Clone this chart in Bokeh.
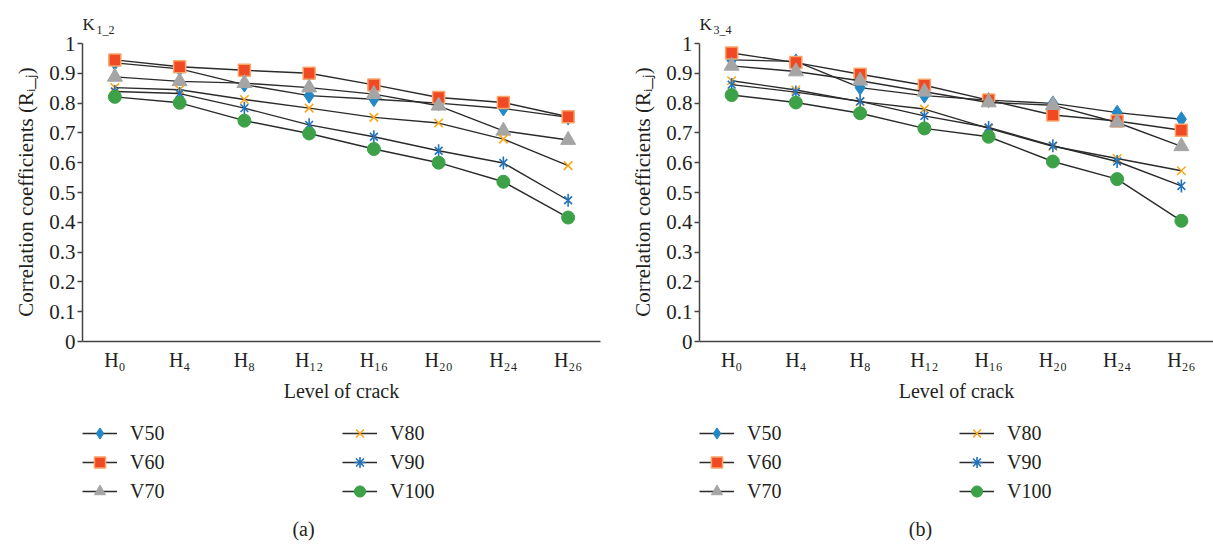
import math
from bokeh.plotting import figure
from bokeh.layouts import row, column
from bokeh.models import FactorRange, Range1d, FixedTicker, Legend, LegendItem, Label
from bokeh.embed import file_html
from bokeh.resources import INLINE

levels = ["H₀", "H₄", "H₈", "H₁₂", "H₁₆", "H₂₀", "H₂₄", "H₂₆"]
series_names = ["V50", "V60", "V70", "V80", "V90", "V100"]
y_ticks = [0, 0.1, 0.2, 0.3, 0.4, 0.5, 0.6, 0.7, 0.8, 0.9, 1]

# Panel (a): K1_2
k12_v50 = [0.935, 0.915, 0.862, 0.825, 0.813, 0.800, 0.782, 0.752]
k12_v60 = [0.945, 0.922, 0.910, 0.900, 0.861, 0.819, 0.802, 0.754]
k12_v70 = [0.888, 0.873, 0.867, 0.852, 0.830, 0.791, 0.707, 0.676]
k12_v80 = [0.852, 0.845, 0.812, 0.783, 0.752, 0.733, 0.679, 0.590]
k12_v90 = [0.839, 0.832, 0.783, 0.727, 0.687, 0.640, 0.599, 0.474]
k12_v100 = [0.821, 0.801, 0.741, 0.698, 0.646, 0.600, 0.536, 0.416]

# Panel (b): K3_4
k34_v50 = [0.945, 0.940, 0.852, 0.825, 0.810, 0.799, 0.768, 0.746]
k34_v60 = [0.968, 0.936, 0.897, 0.860, 0.810, 0.760, 0.740, 0.709]
k34_v70 = [0.925, 0.906, 0.875, 0.838, 0.802, 0.793, 0.735, 0.655]
k34_v80 = [0.875, 0.844, 0.805, 0.780, 0.715, 0.655, 0.614, 0.573]
k34_v90 = [0.862, 0.837, 0.806, 0.757, 0.718, 0.657, 0.604, 0.522]
k34_v100 = [0.827, 0.802, 0.766, 0.715, 0.687, 0.604, 0.545, 0.405]

FONT = "Liberation Serif"
TXT = "#231f20"
LINE = "#2b2b2b"
CHART_H = 410
LEG_H = 134
NBSP = "\u00a0"


def add_markers(p, name, xs, ys, legend=False):
    rs = []
    if name == "V50":
        rs.append(p.scatter(xs, ys, marker="diamond", size=15, fill_color="#2388C6", line_color="#2388C6"))
    elif name == "V60":
        rs.append(p.scatter(xs, ys, marker="square", size=12, fill_color="#EF4A24", line_color="#F8A56B", line_width=1.5))
    elif name == "V70":
        rs.append(p.scatter(xs, ys, marker="triangle", size=15, fill_color="#A5A5A5", line_color="#A5A5A5"))
    elif name == "V80":
        rs.append(p.scatter(xs, ys, marker="x", size=12, line_color="#F9A81B", line_width=1.6))
    elif name == "V90":
        if legend:
            rs.append(p.scatter(xs, ys, marker="asterisk", size=12, line_color="#2372BC", line_width=1.6))
        else:
            rs.append(p.scatter(xs, ys, marker="x", size=11, line_color="#2372BC", line_width=1.6))
            rs.append(p.scatter(xs, ys, marker="dash", size=13, angle=math.pi / 2, line_color="#2372BC", line_width=1.6))
    else:
        rs.append(p.scatter(xs, ys, marker="circle", size=13, fill_color="#3DA148", line_color="#3DA148"))
    return rs


def make_chart(sub, series, width, border_left, border_right):
    frame_h = CHART_H - 69
    p = figure(width=width, height=CHART_H, x_range=FactorRange(*levels),
               y_range=Range1d(0, frame_h / 298.0),
               output_backend="svg", toolbar_location=None,
               min_border_left=border_left, min_border_right=border_right,
               min_border_top=0, min_border_bottom=69)
    p.outline_line_color = None
    p.xgrid.grid_line_color = None
    p.ygrid.grid_line_color = None
    p.background_fill_color = "white"
    p.border_fill_color = "white"

    for ax in (p.xaxis, p.yaxis):
        ax.axis_line_color = "#444444"
        ax.axis_line_width = 1.5
        ax.major_label_text_font = FONT
        ax.major_label_text_font_size = "21px"
        ax.major_label_text_color = TXT
        ax.axis_label_text_font = FONT
        ax.axis_label_text_font_size = "21px"
        ax.axis_label_text_font_style = "normal"
        ax.axis_label_text_color = TXT
        ax.minor_tick_line_color = None

    p.xaxis.major_label_text_font_size = "20px"
    p.xaxis.axis_label_text_font_size = "20px"
    p.xaxis.major_tick_line_color = None
    p.xaxis.major_label_standoff = 1
    p.xaxis.axis_label = "Level of crack"
    p.xaxis.axis_label_standoff = 6

    p.yaxis.bounds = (0, 1)
    p.yaxis.ticker = FixedTicker(ticks=y_ticks)
    p.yaxis.major_label_overrides = {0: "0", 1: "1"}
    p.yaxis.major_tick_line_color = "#444444"
    p.yaxis.major_tick_line_width = 1.5
    p.yaxis.major_tick_out = 5
    p.yaxis.major_tick_in = 0
    p.yaxis.major_label_standoff = 2
    # trailing no-break spaces keep the label centred on the 0..1 span of the axis
    p.yaxis.axis_label = "Correlation coefficients (Rᵢ_ⱼ)" + NBSP * 8
    p.yaxis.axis_label_standoff = 8

    for name, ys in zip(series_names, series):
        p.line(levels, ys, line_color=LINE, line_width=1.4)
        add_markers(p, name, levels, ys)

    base = frame_h - 24
    p.add_layout(Label(x=0, y=base, x_units="screen", y_units="screen", text="K",
                       text_font=FONT, text_font_size="17px", text_color=TXT,
                       text_baseline="alphabetic"))
    p.add_layout(Label(x=14, y=base - 5, x_units="screen", y_units="screen", text=sub,
                       text_font=FONT, text_font_size="12px", text_color=TXT,
                       text_baseline="alphabetic"))
    return p


def make_legend(width, border_left, border_right, series, caption):
    # frame aligned with the chart frame above; series drawn out of view (y range 5..6)
    q = figure(width=width, height=LEG_H, x_range=FactorRange(*levels), y_range=Range1d(5, 6),
               output_backend="svg", toolbar_location=None,
               x_axis_location=None, y_axis_location=None,
               min_border_left=border_left, min_border_right=border_right,
               min_border_top=0, min_border_bottom=0)
    q.outline_line_color = None
    q.xgrid.grid_line_color = None
    q.ygrid.grid_line_color = None
    q.background_fill_color = "white"
    q.border_fill_color = "white"

    items = []
    for name, ys in zip(series_names, series):
        lr = q.line(levels, ys, line_color=LINE, line_width=1.4)
        mrs = add_markers(q, name, levels, ys, legend=True)
        items.append(LegendItem(label=name, renderers=[lr] + mrs))

    ybot = LEG_H - 9 - 86
    for its, xoff in [(items[:3], 0), (items[3:], 260)]:
        lg = Legend(items=its, location=(xoff, ybot), orientation="vertical",
                    glyph_width=35, glyph_height=28, label_height=28, spacing=1,
                    label_standoff=13, padding=0, margin=0,
                    border_line_alpha=0, background_fill_alpha=0,
                    label_text_font=FONT, label_text_font_size="20px", label_text_color=TXT)
        q.add_layout(lg)

    q.add_layout(Label(x=221, y=LEG_H - 118, x_units="screen", y_units="screen", text=caption,
                       text_font=FONT, text_font_size="20px", text_color=TXT,
                       text_align="center", text_baseline="middle"))
    return q


sa = [k12_v50, k12_v60, k12_v70, k12_v80, k12_v90, k12_v100]
sb = [k34_v50, k34_v60, k34_v70, k34_v80, k34_v90, k34_v100]

col_a = column(make_chart("1_2", sa, 606, 82, 6), make_legend(606, 82, 6, sa, "(a)"))
col_b = column(make_chart("3_4", sb, 607, 93, 0), make_legend(607, 93, 0, sb, "(b)"))

layout = row(col_a, col_b)
open("out.html", "w").write(file_html(layout, INLINE))
